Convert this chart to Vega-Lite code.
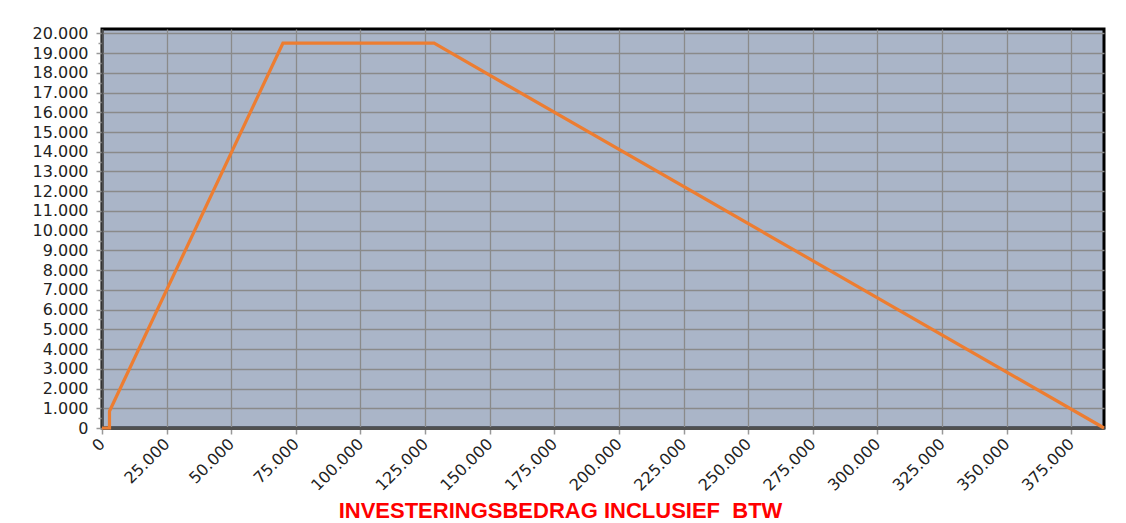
{
  "$schema": "https://vega.github.io/schema/vega-lite/v6.json",
  "autosize": {"type": "none"},
  "width": 1002,
  "height": 399,
  "padding": {"left": 102, "top": 29, "right": 22, "bottom": 95},
  "background": "white",
  "config": {
    "locale": {"number": {"decimal": ",", "thousands": ".", "grouping": [3], "currency": ["€", ""]}},
    "view": {"fill": "#aab5c8", "stroke": "#000000", "strokeWidth": 3},
    "axis": {"labelFont": "DejaVu Sans", "labelFontSize": 16, "labelColor": "#222222"}
  },
  "data": {"values": [
    {"bedrag": 0, "subsidie": 0},
    {"bedrag": 2900, "subsidie": 0},
    {"bedrag": 2900, "subsidie": 850},
    {"bedrag": 70000, "subsidie": 19500},
    {"bedrag": 128500, "subsidie": 19500},
    {"bedrag": 387700, "subsidie": 0}
  ]},
  "mark": {"type": "line", "color": "#ed7d31", "strokeWidth": 3.2, "clip": false},
  "encoding": {
    "x": {
      "field": "bedrag", "type": "quantitative",
      "scale": {"domain": [0, 387700], "nice": false, "zero": true},
      "axis": {
        "values": [0, 25000, 50000, 75000, 100000, 125000, 150000, 175000, 200000, 225000, 250000, 275000, 300000, 325000, 350000, 375000],
        "format": ",d",
        "labelAngle": -45,
        "labelAlign": "right",
        "labelBaseline": "middle",
        "labelPadding": 7,
        "labelOverlap": false,
        "tickSize": 6,
        "tickColor": "#999999",
        "tickWidth": 1.5,
        "domainColor": "#505050",
        "domainWidth": 3,
        "gridColor": "#8a8a8a",
        "gridWidth": 1.3,
        "gridOpacity": 1,
        "title": "INVESTERINGSBEDRAG INCLUSIEF\u00a0 BTW",
        "titleColor": "#ff0000",
        "titleFont": "Liberation Sans",
        "titleFontSize": 22,
        "titleFontWeight": "bold",
        "titleAnchor": "start",
        "titleAlign": "center",
        "titleBaseline": "alphabetic",
        "titleX": 458,
        "titleY": 89
      }
    },
    "y": {
      "field": "subsidie", "type": "quantitative",
      "scale": {"domain": [0, 20220], "nice": false},
      "axis": {
        "values": [0, 500, 1000, 1500, 2000, 2500, 3000, 3500, 4000, 4500, 5000, 5500, 6000, 6500, 7000, 7500, 8000, 8500, 9000, 9500, 10000, 10500, 11000, 11500, 12000, 12500, 13000, 13500, 14000, 14500, 15000, 15500, 16000, 16500, 17000, 17500, 18000, 18500, 19000, 19500, 20000],
        "labelExpr": "datum.value % 1000 === 0 ? format(datum.value, ',d') : ''",
        "labelPadding": 8,
        "labelOverlap": false,
        "tickSize": {"condition": {"test": "datum.value % 1000 === 0", "value": 6}, "value": 4},
        "tickColor": "#999999",
        "tickWidth": 1.5,
        "domainColor": "#505050",
        "domainWidth": 2,
        "gridColor": "#8a8a8a",
        "gridWidth": 1.3,
        "gridOpacity": {"condition": {"test": "datum.value % 1000 === 0", "value": 1}, "value": 0},
        "title": null
      }
    }
  }
}
